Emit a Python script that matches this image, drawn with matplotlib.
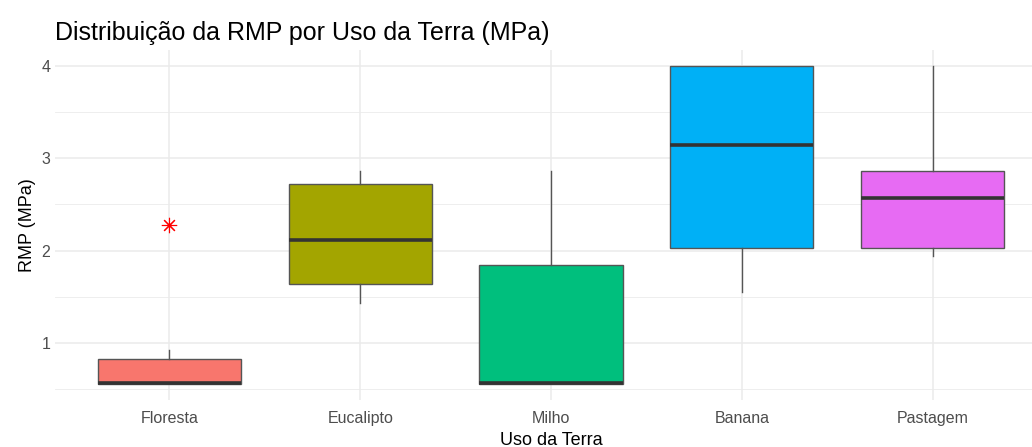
import numpy as np
import matplotlib.pyplot as plt

plt.rcParams['font.family'] = ['Liberation Sans', 'DejaVu Sans']

usos = ['Floresta', 'Eucalipto', 'Milho', 'Banana', 'Pastagem']
cores = ['#F8766D', '#A3A500', '#00BF7D', '#00B0F6', '#E76BF3']
# estatisticas (MPa)
whislo = [0.555, 1.43, 0.555, 1.55, 1.94]
q1 = [0.555, 1.64, 0.555, 2.03, 2.03]
med = [0.565, 2.115, 0.565, 3.145, 2.57]
q3 = [0.826, 2.72, 1.845, 4.0, 2.86]
whishi = [0.92, 2.86, 2.86, 4.0, 4.0]
outliers = [[2.28], [], [], [], []]

stats = []
for i in range(len(usos)):
    stats.append(dict(whislo=whislo[i], q1=q1[i], med=med[i], q3=q3[i],
                      whishi=whishi[i], fliers=outliers[i], label=usos[i]))

fig = plt.figure(figsize=(10.32, 4.47), dpi=100)
ax = fig.add_axes([55/1032, 47/447, 992/1032, 350/447])

bp = ax.bxp(stats, positions=range(len(usos)), widths=0.75, patch_artist=True,
            showcaps=False,
            boxprops=dict(edgecolor='#555555', linewidth=1.0),
            medianprops=dict(color='#333333', linewidth=2.6, solid_capstyle='butt'),
            whiskerprops=dict(color='#555555', linewidth=1.0),
            flierprops=dict(marker=(8, 2, 0), markeredgecolor='red', markersize=11,
                            markeredgewidth=0.8, linestyle='none'))
for b, c in zip(bp['boxes'], cores):
    b.set_facecolor(c)

ax.set_xlim(-0.6, len(usos) - 0.4)
ymin, ymax = min(whislo), max(whishi)
pad = 0.05 * (ymax - ymin)
ax.set_ylim(ymin - pad, ymax + pad)
ax.set_yticks([1, 2, 3, 4])
ax.set_yticks([0.5, 1.5, 2.5, 3.5], minor=True)
ax.set_xticks(range(len(usos)))
ax.set_xticklabels(usos)

ax.grid(True, which='major', color='#EBEBEB', linewidth=1.1)
ax.grid(True, which='minor', axis='y', color='#EBEBEB', linewidth=0.6)
ax.set_axisbelow(True)
for s in ax.spines.values():
    s.set_visible(False)
ax.tick_params(which='both', length=0, labelsize=11.5, labelcolor='#4D4D4D')
ax.tick_params(axis='x', pad=8)

ax.set_title('Distribuição da RMP por Uso da Terra (MPa)', fontsize=18, loc='left',
             x=0, pad=7)
ax.set_xlabel('Uso da Terra', fontsize=13, labelpad=4)
ax.set_ylabel('RMP (MPa)', fontsize=13)

fig.savefig('out.png', dpi=100)
